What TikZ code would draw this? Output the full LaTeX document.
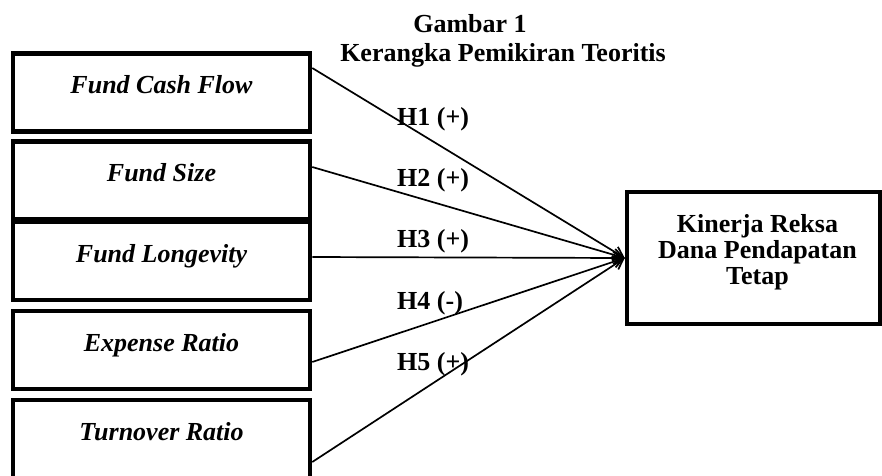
\documentclass[tikz,border=0pt]{standalone}
\usepackage{fontspec}
\setmainfont{Liberation Serif}
\usetikzlibrary{arrows.meta}

\newcommand{\figfont}{\fontsize{26}{26}\selectfont}

\tikzset{
  varbox/.style={draw, line width=4.5pt, minimum width=297pt, inner xsep=0pt, inner ysep=0pt,
    text height=40pt, text depth=38pt, font=\figfont\bfseries\itshape},
  outbox/.style={draw, line width=4.5pt, minimum width=253pt, minimum height=132pt},
  outtext/.style={align=center, inner sep=0pt, font=\figfont\bfseries},
  hyp/.style={line width=1.7pt, -{Straight Barb[length=10pt,width=12pt]}},
  hlabel/.style={anchor=base west, inner sep=0pt, font=\figfont\bfseries},
  titletext/.style={anchor=base, inner sep=0pt, font=\figfont\bfseries},
}

\begin{document}
\begin{tikzpicture}[x=1pt, y=-1pt]
    \useasboundingbox (0,0) rectangle (882,475);

    % Title
    \node[titletext] (gbr) at (470,32) {Gambar 1};
    \node[titletext] (kpt) at (503,61) {Kerangka Pemikiran Teoritis};

    % Independent variables
    \node[varbox] (fcf) at (161.5,92.5) {Fund Cash Flow};
    \node[varbox] (fsz) at (161.5,180.5) {Fund Size};
    \node[varbox] (flg) at (161.5,261) {Fund Longevity};
    \node[varbox] (exr) at (161.5,350) {Expense Ratio};
    \node[varbox] (tor) at (161.5,439) {Turnover Ratio};

    % Dependent variable
    \node[outbox] (kin) at (753.5,258) {};
    \node[outtext, anchor=north] (kintext) at ([xshift=4pt,yshift=-24pt]kin.north) {Kinerja Reksa\\Dana Pendapatan\\Tetap};

    % Hypotheses
    \draw[hyp] ([yshift=24.5pt]fcf.east) -- (kin.west);
    \draw[hyp] ([yshift=13.5pt]fsz.east) -- (kin.west);
    \draw[hyp] ([yshift=4pt]flg.east) -- (kin.west);
    \draw[hyp] ([yshift=-12pt]exr.east) -- (kin.west);
    \draw[hyp] ([yshift=-23pt]tor.east) -- (kin.west);

    \node[hlabel] (h1) at (397,125) {H1 (+)};
    \node[hlabel] (h2) at (397,186) {H2 (+)};
    \node[hlabel] (h3) at (397,247) {H3 (+)};
    \node[hlabel] (h4) at (397,309) {H4 (-)};
    \node[hlabel] (h5) at (397,370) {H5 (+)};
\end{tikzpicture}
\end{document}
